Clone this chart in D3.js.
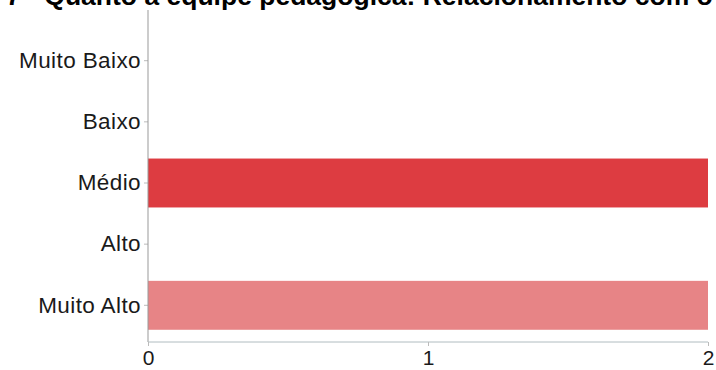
<!DOCTYPE html>
<html><head><meta charset="utf-8">
<script src="https://cdn.jsdelivr.net/npm/d3@7"></script>
<style>body{margin:0;background:#fff}svg{display:block}</style>
</head><body>
<svg id="c" width="716" height="370"></svg>
<script>
const title = "7 - Quanto à equipe pedagógica: Relacionamento com o";
const categories = ["Muito Baixo","Baixo","Médio","Alto","Muito Alto"];
const values = [0,0,2,0,2];
const barColors = ["#dd3c41","#dd3c41","#dd3c41","#e78486","#e78486"];
const xTicks = [0,1,2];

const svg = d3.select("#c");
const font = "'Liberation Sans', Arial, Helvetica, sans-serif";
const x = d3.scaleLinear().domain([0,2]).range([148,708]);
const y = d3.scaleBand().domain(categories).range([24,342]).padding(0.2);

svg.append("text").attr("x",6).attr("y",5)
  .attr("font-family",font).attr("font-weight","bold").attr("font-size",26.5)
  .attr("fill","#000").text(title);

svg.selectAll("rect.bar").data(categories).join("rect").attr("class","bar")
  .attr("x",x(0)).attr("y",d=>y(d))
  .attr("width",(d,i)=>x(values[i])-x(0)).attr("height",y.bandwidth())
  .attr("fill",(d,i)=>barColors[i]);

const yAxis = svg.append("g").attr("transform",`translate(${x(0)},0)`)
  .call(d3.axisLeft(y).tickSize(4).tickPadding(3));
yAxis.select(".domain").remove();
yAxis.append("line").attr("x1",0).attr("x2",0).attr("y1",10).attr("y2",342).attr("stroke","#999");
yAxis.selectAll(".tick line").attr("stroke","#bbb");
yAxis.selectAll(".tick text").attr("font-family",font).attr("font-size",22.5)
  .attr("letter-spacing","0.4px").attr("fill","#1a1a1a");

const xAxis = svg.append("g").attr("transform","translate(0,342)")
  .call(d3.axisBottom(x).tickValues(xTicks).tickFormat(d3.format("d")).tickSize(4).tickPadding(4));
xAxis.select(".domain").attr("stroke","#b0bcc0").attr("d",`M${x(0)},0H${x(2)}`);
xAxis.selectAll(".tick line").attr("stroke","#bbb");
xAxis.selectAll(".tick text").attr("font-family",font).attr("font-size",21).attr("fill","#1a1a1a");
</script>
</body></html>
